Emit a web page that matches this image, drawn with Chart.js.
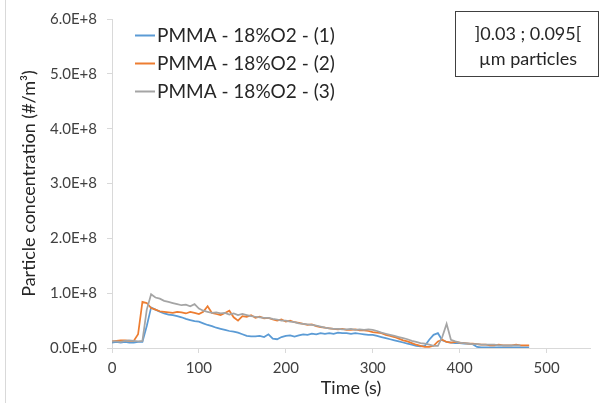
<!DOCTYPE html>
<html><head><meta charset="utf-8">
<script src="https://cdn.jsdelivr.net/npm/chart.js@4/dist/chart.umd.min.js"></script>
<style>html,body{margin:0;padding:0;background:#fff}#wrap{width:603px;height:403px;position:relative}</style>
</head><body><div id="wrap"><canvas id="c" width="603" height="403"></canvas></div>
<script>
// Time (s)
const times = [0,5,10,15,20,25,30,35,40,45,50,55,60,65,70,75,80,85,90,95,
100,105,110,115,120,125,130,135,140,145,150,155,160,165,170,175,180,185,190,195,
200,205,210,215,220,225,230,235,240,245,250,255,260,265,270,275,280,285,290,295,
300,305,310,315,320,325,330,335,340,345,350,355,360,365,370,375,380,385,390,395,
400,405,410,415,420,425,430,435,440,445,450,455,460,465,470,475,480];

// Particle concentration, in millions of #/m3
const run1 = [10,11,10,11,10,10,11,11,40,74,
70,66,63,61,60,58,56,53,51,49,
48,45,42,40,37,35,33,31,30,28,
25,22,21,21,22,20,25,17,16,20,
22,23,21,23,25,24,26,25,27,26,
27,26,28,27,27,26,27,26,25,24,
24,22,20,18,16,14,12,10,8,6,
4,3,4,15,24,27,14,11,10,9,
9,8,8,7,2,1,1,1,1,1,
1,1,1,1,1,1,1];
const run2 = [12,13,14,14,13,13,25,84,82,73,
70,67,66,65,64,66,65,63,66,64,
62,66,76,64,62,60,64,68,56,50,
58,57,60,55,57,54,55,52,50,52,
48,50,47,46,44,42,43,40,38,37,
36,35,34,35,33,33,34,32,32,31,
29,28,27,24,22,20,17,14,12,9,
6,4,2,2,4,12,15,11,10,11,
10,9,8,8,7,6,6,5,5,6,
5,5,5,6,5,5,5];
const run3 = [12,12,11,13,14,13,12,13,70,98,
92,90,86,84,82,80,78,79,76,80,
72,68,66,64,65,63,64,61,63,60,
62,60,58,57,56,55,55,53,52,50,
50,48,47,45,44,43,42,41,39,37,
36,35,35,34,34,35,33,34,33,34,
33,31,28,26,24,22,20,18,16,13,
11,9,8,6,4,4,20,44,15,12,
10,9,8,7,7,6,6,6,6,5,
5,5,5,5,5,null,null];

const seriesNames = ['PMMA - 18%O2 - (1)','PMMA - 18%O2 - (2)','PMMA - 18%O2 - (3)'];
const seriesColors = ['#5B9BD5','#ED7D31','#A5A5A5'];
const yTicks = [0,1e8,2e8,3e8,4e8,5e8,6e8];
const xTicks = [0,100,200,300,400,500];
const boxLines = [']0.03 ; 0.095[', 'µm particles'];
const xTitle = 'Time (s)';
const yTitle = 'Particle concentration (#/m³)';

function toPoints(vals){
  return times.map((t,i)=>({x:t, y: vals[i]===null ? null : vals[i]*1e6}));
}

const overlay = {
  id:'overlay',
  afterDraw(chart){
    const ctx = chart.ctx;
    ctx.save();
    ctx.strokeStyle = '#d9d9d9'; ctx.lineWidth = 1;
    ctx.beginPath(); ctx.moveTo(5.5,0); ctx.lineTo(5.5,403); ctx.stroke();
    ctx.font = '19px Lato';
    ctx.textBaseline = 'middle'; ctx.textAlign = 'left';
    chart.data.datasets.forEach((ds,i)=>{
      const y = 35.5 + i*28;
      ctx.strokeStyle = ds.borderColor; ctx.lineWidth = 2;
      ctx.beginPath(); ctx.moveTo(135,y); ctx.lineTo(155,y); ctx.stroke();
      ctx.fillStyle = '#262626';
      ctx.fillText(ds.label, 157, y);
    });
    ctx.strokeStyle = '#404040'; ctx.lineWidth = 1;
    ctx.strokeRect(455.5, 11.5, 143, 65);
    ctx.fillStyle = '#262626'; ctx.textAlign = 'center';
    ctx.font = '18px Lato';
    ctx.fillText(boxLines[0], 528, 34);
    ctx.fillText(boxLines[1], 528, 59);
    ctx.restore();
  }
};

new Chart(document.getElementById('c'), {
  type:'line',
  data:{
    datasets: [run1,run2,run3].map((v,i)=>({
      label: seriesNames[i],
      data: toPoints(v),
      borderColor: seriesColors[i],
      backgroundColor: seriesColors[i],
      borderWidth: 1.75,
      pointRadius: 0,
      tension: 0,
      spanGaps: false,
      order: 2-i
    }))
  },
  options:{
    responsive:false,
    animation:false,
    devicePixelRatio:1,
    layout:{padding:{top:18, right:13, left:0, bottom:0}},
    plugins:{legend:{display:false}, tooltip:{enabled:false}},
    scales:{
      x:{
        type:'linear', min:0, max:550,
        afterFit(s){ s.height = 55; },
        afterBuildTicks(s){ s.ticks = xTicks.map(v=>({value:v})); },
        grid:{drawOnChartArea:false, drawTicks:true, tickLength:5, color:'#d9d9d9'},
        border:{color:'#d9d9d9'},
        ticks:{font:{family:'Lato', size:15}, color:'#404040', padding:6, maxRotation:0},
        title:{display:true, text:xTitle, font:{family:'Lato', size:18}, color:'#262626', padding:{top:0,bottom:4}}
      },
      y:{
        type:'linear', min:0, max:6e8,
        afterFit(s){ s.width = 112; },
        afterBuildTicks(s){ s.ticks = yTicks.map(v=>({value:v})); },
        grid:{drawOnChartArea:false, drawTicks:true, tickLength:5, color:'#d9d9d9'},
        border:{color:'#d9d9d9'},
        ticks:{font:{family:'Lato', size:15}, color:'#404040', padding:10,
          callback(v){ return v===0 ? '0.0E+0' : (v/1e8).toFixed(1)+'E+8'; }},
        title:{display:true, text:yTitle, font:{family:'Lato', size:18}, color:'#262626', padding:{top:18,bottom:0}}
      }
    }
  },
  plugins:[overlay]
});
</script>
</body></html>
